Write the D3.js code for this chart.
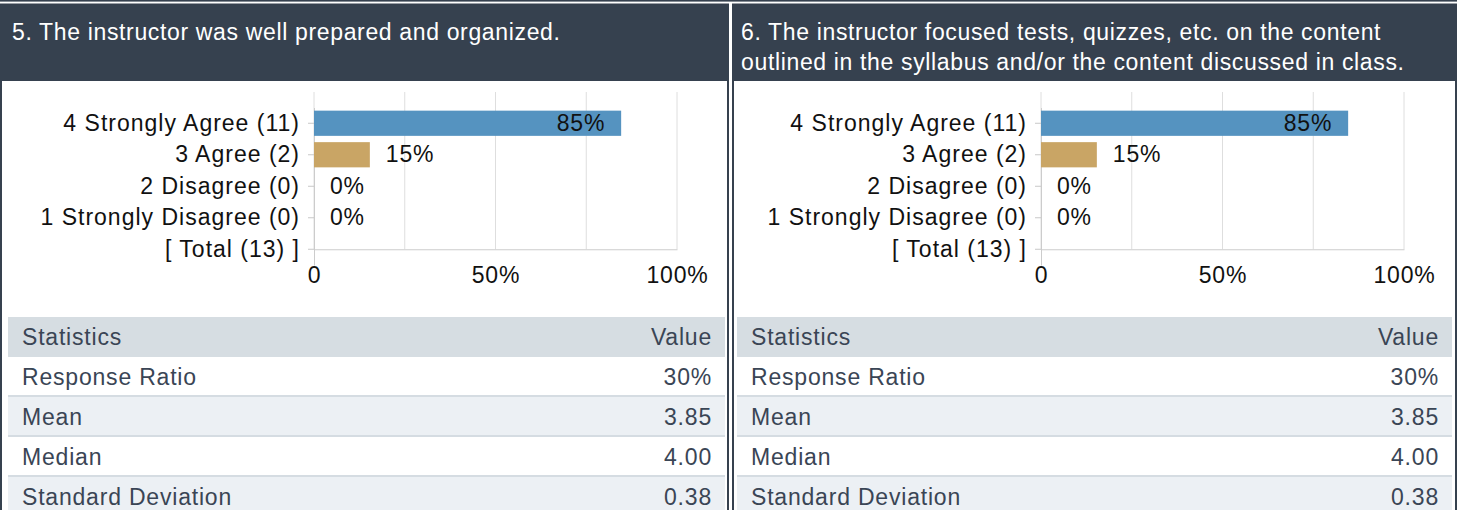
<!DOCTYPE html>
<html>
<head>
<meta charset="utf-8">
<script src="https://cdn.jsdelivr.net/npm/d3@7"></script>
<style>
  body { margin: 0; background: #fff; }
  text { font-family: "Liberation Sans", Arial, sans-serif; }
</style>
</head>
<body>
<svg id="chart"></svg>
<script>
// question titles (one array of lines per question)
const q5Title = ["5. The instructor was well prepared and organized."];
const q6Title = ["6. The instructor focused tests, quizzes, etc. on the content",
                 "outlined in the syllabus and/or the content discussed in class."];

const categories = ["4 Strongly Agree (11)", "3 Agree (2)", "2 Disagree (0)",
                    "1 Strongly Disagree (0)", "[ Total (13) ]"];
const q5Counts = [11, 2, 0, 0];
const q6Counts = [11, 2, 0, 0];
const total = 13;
const xTicks = [0, 50, 100];
const gridTicks = [0, 25, 50, 75, 100];

const statNames = ["Response Ratio", "Mean", "Median", "Standard Deviation"];
const q5Stats = ["30%", "3.85", "4.00", "0.38"];
const q6Stats = ["30%", "3.85", "4.00", "0.38"];

const barColors = ["#5593c0", "#c9a565", "#c9a565", "#c9a565"];

const width = 1463;
const height = 510;
const svg = d3.select("#chart")
              .attr("width", width)
              .attr("height", height);

const dark = "#36414f";
const textDark = "#3a4555";
const fontSize = 23;
const spacing = "0.8px";

// top rule
svg.append("rect").attr("x", 0).attr("y", 0).attr("width", 1457).attr("height", 1.6).attr("fill", dark);

const panels = [
  {x: 0, w: 729, title: q5Title, counts: q5Counts, stats: q5Stats, zeroX: 314, tableL: 8, tableR: 725, titleX: 12},
  {x: 732, w: 725, title: q6Title, counts: q6Counts, stats: q6Stats, zeroX: 1041, tableL: 737, tableR: 1452, titleX: 741}
];

panels.forEach(function(p) {
  var g = svg.append("g");

  // border + header
  g.append("rect")
    .attr("x", p.x + 1).attr("y", 4.5)
    .attr("width", p.w - 2).attr("height", height)
    .attr("fill", "#fff").attr("stroke", dark).attr("stroke-width", 2);
  g.append("rect")
    .attr("x", p.x).attr("y", 4.5)
    .attr("width", p.w).attr("height", 76.5)
    .attr("fill", dark);
  g.selectAll(".title")
    .data(p.title)
    .enter().append("text")
      .attr("x", p.titleX)
      .attr("y", (d, i) => 39.5 + i * 30)
      .attr("fill", "#fff")
      .style("font-size", fontSize + "px")
      .style("letter-spacing", "0.65px")
      .text(d => d);

  // scales
  var xScale = d3.scaleLinear().domain([0, 100]).range([p.zeroX, p.zeroX + 363]);
  var yScale = d3.scaleBand().domain(categories).range([107.5, 265]).paddingInner(0.2).paddingOuter(0.1);
  var yCenter = d => yScale(d) + yScale.bandwidth() / 2;

  // grid
  g.append("g").selectAll("line")
    .data(gridTicks)
    .enter().append("line")
      .attr("x1", d => xScale(d)).attr("x2", d => xScale(d))
      .attr("y1", 92).attr("y2", yCenter(categories[4]))
      .attr("stroke", "#dedede").attr("stroke-width", 1);

  // bottom axis (labels only)
  var xAxis = g.append("g")
    .attr("transform", `translate(0,${yCenter(categories[4])})`)
    .call(d3.axisBottom(xScale).tickValues(xTicks).tickSize(0).tickPadding(17)
            .tickFormat(d => d === 0 ? "0" : d + "%"));
  xAxis.select(".domain").attr("stroke", "#cccccc");
  xAxis.selectAll("text")
    .attr("fill", "#111")
    .style("font-size", fontSize + "px")
    .style("letter-spacing", spacing)
    .style("font-family", "Liberation Sans, Arial, sans-serif");

  // left axis
  var yAxis = g.append("g")
    .attr("transform", `translate(${p.zeroX},0)`)
    .call(d3.axisLeft(yScale).tickSize(6).tickPadding(8).tickSizeOuter(0));
  yAxis.select(".domain").attr("stroke", "#cccccc");
  yAxis.selectAll(".tick line").attr("stroke", "#c8c8c8");
  yAxis.selectAll("text")
    .attr("fill", "#111")
    .style("font-size", fontSize + "px")
    .style("letter-spacing", "1px")
    .style("font-family", "Liberation Sans, Arial, sans-serif");

  var pct = p.counts.map(c => c / total * 100);

  // bars
  g.append("g").selectAll("rect")
    .data(pct)
    .enter().append("rect")
      .attr("x", xScale(0))
      .attr("y", (d, i) => yScale(categories[i]))
      .attr("width", d => xScale(d) - xScale(0))
      .attr("height", yScale.bandwidth())
      .attr("fill", (d, i) => barColors[i]);

  // value labels
  g.append("g").selectAll("text")
    .data(pct)
    .enter().append("text")
      .attr("x", d => d > 50 ? xScale(d) - 16 : xScale(d) + 16)
      .attr("y", (d, i) => yCenter(categories[i]))
      .attr("dy", "0.33em")
      .attr("text-anchor", d => d > 50 ? "end" : "start")
      .attr("fill", "#111")
      .style("font-size", fontSize + "px")
      .style("letter-spacing", spacing)
      .text(d => Math.round(d) + "%");

  // statistics table
  var tw = p.tableR - p.tableL;
  var tg = g.append("g");
  tg.append("rect").attr("x", p.tableL).attr("y", 317).attr("width", tw).attr("height", 40).attr("fill", "#d6dde2");
  tg.append("text").attr("x", p.tableL + 14).attr("y", 345)
    .attr("fill", textDark).style("font-size", fontSize + "px").style("letter-spacing", spacing).text("Statistics");
  tg.append("text").attr("x", p.tableR - 13).attr("y", 345).attr("text-anchor", "end")
    .attr("fill", textDark).style("font-size", fontSize + "px").style("letter-spacing", spacing).text("Value");

  var rows = tg.selectAll(".row")
    .data(statNames)
    .enter().append("g")
      .attr("transform", (d, i) => `translate(0,${357 + i * 40})`);
  rows.append("rect")
    .attr("x", p.tableL).attr("y", 0).attr("width", tw).attr("height", 40)
    .attr("fill", (d, i) => i % 2 ? "#ecf0f4" : "#ffffff");
  rows.append("rect")
    .attr("x", p.tableL).attr("y", 38).attr("width", tw).attr("height", 2)
    .attr("fill", "#d5dce2");
  rows.append("text")
    .attr("x", p.tableL + 14).attr("y", 28)
    .attr("fill", textDark).style("font-size", fontSize + "px").style("letter-spacing", spacing)
    .text(d => d);
  rows.append("text")
    .attr("x", p.tableR - 13).attr("y", 28).attr("text-anchor", "end")
    .attr("fill", textDark).style("font-size", fontSize + "px").style("letter-spacing", spacing)
    .text((d, i) => p.stats[i]);
});
</script>
</body>
</html>
